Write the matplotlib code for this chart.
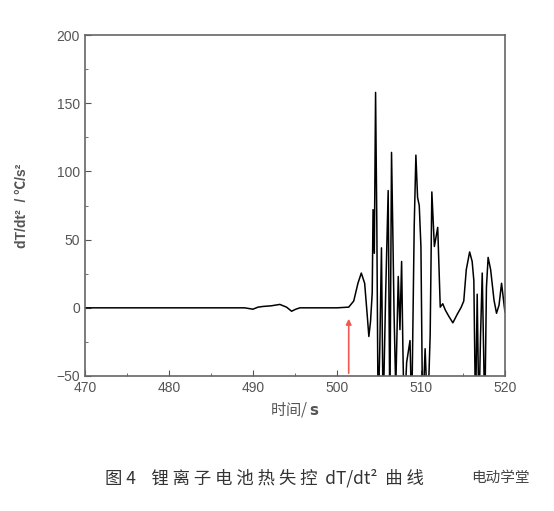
import numpy as np
import matplotlib.pyplot as plt
from matplotlib.ticker import MultipleLocator

plt.rcParams['font.family'] = ['Liberation Sans', 'Noto Sans CJK SC', 'DejaVu Sans']

# Curve (time s, dT/dt^2 in C/s^2)
time_s = [470, 480, 489.0, 490.0, 490.6, 491.2, 492.2, 493.2, 494.0, 494.6,
          495.1, 495.6, 497.0, 500.0, 501.4, 502.0, 502.5, 502.9, 503.3,
          503.6, 503.8, 504.0, 504.2, 504.3, 504.45, 504.6, 504.75, 504.9,
          505.1, 505.3, 505.5, 505.8, 506.1, 506.3, 506.5, 506.65, 506.8,
          507.0, 507.3, 507.5, 507.7, 507.85, 508.0, 508.3, 508.7, 508.9,
          509.2, 509.4, 509.6, 509.8, 510.0, 510.2, 510.5, 510.8, 511.1,
          511.3, 511.6, 512.0, 512.3, 512.6, 512.9, 513.3, 513.8, 514.3,
          514.8, 515.1, 515.4, 515.8, 516.1, 516.3, 516.5, 516.7, 516.9,
          517.1, 517.3, 517.6, 517.8, 518.0, 518.3, 518.7, 519.0, 519.3,
          519.6, 520.0]
dtdt2 = [0, 0, 0, -1, 0.5, 1, 1.5, 2.5, 0.5, -2.5,
         -1, 0, 0, 0, 0.5, 5, 18, 25.5, 18,
         -5, -21, -10, 11, 72, 40, 158, 60, -80,
         -30, 44, -80, 10, 86, -80, 114, 57, -4,
         -60, 23, -16, 34, -29, -80, -40, -24, -80,
         60, 112, 81, 75, 45, -80, -30, -80, -20,
         85, 45, 59, 0.5, 3, -1.6, -6, -11, -5,
         0.5, 5, 28, 41, 34, 20, -80, 10, -80,
         -20, 25.5, -80, 15, 37, 28, 5.7, -4, 2,
         18, -3]

arrow_x = 501.4

fig = plt.figure(figsize=(5.54, 5.11), dpi=100)
ax = fig.add_axes([0.1534, 0.2642, 0.758, 0.667])

ax.plot(time_s, dtdt2, color='black', lw=1.1)

# red arrow marking onset
ax.annotate('', xy=(arrow_x, -6), xytext=(arrow_x, -50),
            arrowprops=dict(arrowstyle='-|>', color='#f05a50', lw=1.2,
                            mutation_scale=8))

ax.set_xlim(470, 520)
ax.set_ylim(-50, 200)
ax.xaxis.set_major_locator(MultipleLocator(10))
ax.xaxis.set_minor_locator(MultipleLocator(5))
ax.yaxis.set_major_locator(MultipleLocator(50))
ax.yaxis.set_minor_locator(MultipleLocator(25))
ax.tick_params(which='both', direction='in', colors='#555555',
               labelcolor='#555555', labelsize=10)
ax.tick_params(which='major', length=4)
ax.tick_params(which='minor', length=2)
for sp in ax.spines.values():
    sp.set_color('#666666')
    sp.set_linewidth(1.2)

ax.set_ylabel('dT/dt²  / ℃/s²', fontsize=10, fontweight='bold',
              color='#555555', labelpad=20)
ax.set_xlabel('时间/ $\\mathbf{s}$', fontsize=11, color='#555555',
              family=['Noto Sans CJK SC', 'DejaVu Sans'])

# caption and watermark
fig.text(0.19, 0.064, '图 4    锂 离 子 电 池 热 失 控  dT/dt²  曲 线', fontsize=12.5,
         color='#333333', family=['Noto Sans CJK SC', 'DejaVu Sans'],
         va='center')
fig.text(0.85, 0.064, '电动学堂', fontsize=10.5, color='#444444',
         family=['Noto Sans CJK SC', 'DejaVu Sans'], va='center')

fig.savefig('out.png', dpi=100, facecolor='white')
